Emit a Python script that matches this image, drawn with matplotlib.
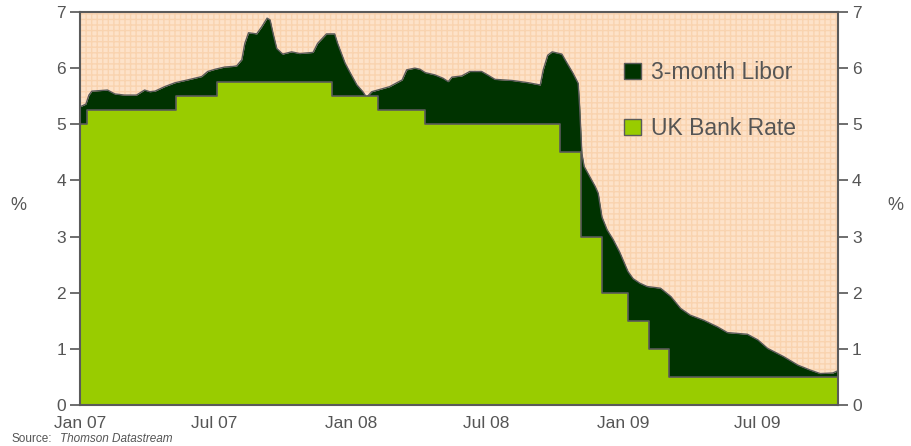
import matplotlib
matplotlib.use("Agg")
import matplotlib.pyplot as plt
import numpy as np
import pandas as pd
from matplotlib.patches import Rectangle

plt.rcParams['font.family'] = ['Liberation Sans', 'DejaVu Sans']

# ---- data ----
libor_dates = ["2007-01-01", "2007-01-09", "2007-01-13", "2007-01-17", "2007-01-28", "2007-02-07",
               "2007-02-17", "2007-03-02", "2007-03-18", "2007-03-29", "2007-04-05", "2007-04-12",
               "2007-04-25", "2007-05-09", "2007-05-26", "2007-06-14", "2007-06-22", "2007-07-02",
               "2007-07-15", "2007-07-26", "2007-07-31", "2007-08-07", "2007-08-11", "2007-08-16",
               "2007-08-27", "2007-09-03", "2007-09-10", "2007-09-14", "2007-09-18", "2007-09-23",
               "2007-10-01", "2007-10-13", "2007-10-24", "2007-11-11", "2007-11-17", "2007-11-29",
               "2007-12-10", "2007-12-14", "2007-12-24", "2007-12-30", "2008-01-09", "2008-01-17",
               "2008-01-22", "2008-01-29", "2008-02-06", "2008-02-22", "2008-02-29", "2008-03-10",
               "2008-03-16", "2008-03-27", "2008-04-03", "2008-04-10", "2008-04-23", "2008-05-04",
               "2008-05-11", "2008-05-16", "2008-05-29", "2008-06-09", "2008-06-25", "2008-07-03",
               "2008-07-13", "2008-08-05", "2008-08-27", "2008-09-12", "2008-09-16", "2008-09-22",
               "2008-09-28", "2008-10-11", "2008-10-18", "2008-10-26", "2008-11-02", "2008-11-04",
               "2008-11-07", "2008-11-10", "2008-11-15", "2008-11-25", "2008-11-29", "2008-12-04",
               "2008-12-11", "2008-12-19", "2008-12-28", "2009-01-08", "2009-01-15", "2009-01-24",
               "2009-02-03", "2009-02-21", "2009-03-07", "2009-03-20", "2009-04-02", "2009-04-20",
               "2009-05-09", "2009-05-22", "2009-06-18", "2009-07-02", "2009-07-15", "2009-08-06",
               "2009-08-25", "2009-09-11", "2009-09-24", "2009-10-11", "2009-10-18"]
libor_values = [5.31, 5.36, 5.52, 5.59, 5.60, 5.61,
                5.54, 5.52, 5.52, 5.61, 5.58, 5.59,
                5.67, 5.74, 5.79, 5.85, 5.94, 5.98,
                6.02, 6.03, 6.04, 6.15, 6.44, 6.63,
                6.61, 6.74, 6.89, 6.86, 6.62, 6.35,
                6.25, 6.29, 6.26, 6.28, 6.44, 6.61,
                6.61, 6.44, 6.09, 5.94, 5.70, 5.58,
                5.48, 5.58, 5.61, 5.67, 5.72, 5.79,
                5.97, 6.00, 5.98, 5.92, 5.88, 5.82,
                5.76, 5.84, 5.86, 5.94, 5.94, 5.88,
                5.80, 5.78, 5.74, 5.70, 5.97, 6.23,
                6.29, 6.25, 6.09, 5.91, 5.73, 5.31,
                4.48, 4.25, 4.13, 3.89, 3.77, 3.35,
                3.12, 2.95, 2.72, 2.38, 2.25, 2.17,
                2.11, 2.08, 1.93, 1.72, 1.60, 1.51,
                1.39, 1.29, 1.26, 1.16, 1.01, 0.86,
                0.71, 0.62, 0.56, 0.57, 0.61]

bank_dates = ["2007-01-01", "2007-01-11", "2007-05-10", "2007-07-05", "2007-12-06", "2008-02-07",
              "2008-04-10", "2008-10-08", "2008-11-06", "2008-12-04", "2009-01-08", "2009-02-05",
              "2009-03-05", "2009-10-18"]
bank_values = [5.00, 5.25, 5.50, 5.75, 5.50, 5.25,
               5.00, 4.50, 3.00, 2.00, 1.50, 1.00,
               0.50, 0.50]

xtick_dates = ["2007-01-01", "2007-07-01", "2008-01-01", "2008-07-01", "2009-01-01", "2009-07-01"]
xtick_labels = ["Jan 07", "Jul 07", "Jan 08", "Jul 08", "Jan 09", "Jul 09"]
yticks = [0, 1, 2, 3, 4, 5, 6, 7]

series_names = ["3-month Libor", "UK Bank Rate"]

# ---- plot ----
libor_x = pd.to_datetime(libor_dates)
bank_x = pd.to_datetime(bank_dates)

fig = plt.figure(figsize=(9.11, 4.46), dpi=100)
ax = fig.add_axes([80/911, 1-405/446, (838-80)/911, (405-12)/446])

txt = '#555555'
edge = '#5a5a5a'
dark = '#003300'
light = '#99CC00'
bg = '#FDE2C9'

ax.set_facecolor(bg)
ax.add_patch(Rectangle((0, 0), 1, 1, transform=ax.transAxes, facecolor='none',
                       edgecolor='#F9D3AF', hatch='+++', linewidth=0, zorder=0.5))

ax.fill_between(libor_x, 0, libor_values, color=dark, zorder=2, linewidth=0)
ax.plot(libor_x, libor_values, color=edge, lw=1.0, zorder=2.5)
ax.fill_between(bank_x, 0, bank_values, step='post', color=light, zorder=3, linewidth=0)
ax.step(bank_x, bank_values, where='post', color=edge, lw=1.2, zorder=3.5)

ax.set_xlim(pd.Timestamp("2007-01-01"), pd.Timestamp("2009-10-18"))
ax.set_ylim(0, 7)

ax.set_xticks(pd.to_datetime(xtick_dates))
ax.set_xticklabels(xtick_labels)
ax.tick_params(axis='x', length=0, pad=8, labelsize=12.5, colors=txt)

ax.set_yticks(yticks)
ax.tick_params(axis='y', which='both', direction='out', length=7, width=1.2,
               labelsize=12.5, colors=txt, left=True, right=True,
               labelleft=True, labelright=True, pad=3)

for s in ['left', 'right', 'top', 'bottom']:
    ax.spines[s].set_color(edge)
    ax.spines[s].set_linewidth(1.5)
    ax.spines[s].set_zorder(5)

fig.text(18/911, 1-205/446, '%', fontsize=13, color=txt, ha='center', va='center')
fig.text(895/911, 1-205/446, '%', fontsize=13, color=txt, ha='center', va='center')

h1 = Rectangle((0, 0), 1, 1, facecolor=dark, edgecolor=edge, lw=1)
h2 = Rectangle((0, 0), 1, 1, facecolor=light, edgecolor=edge, lw=1)
leg = ax.legend([h1, h2], series_names, loc='upper left',
                bbox_to_anchor=(624/911, 1-61/446), bbox_transform=fig.transFigure,
                frameon=False, fontsize=16.5, handlelength=0.72, handleheight=0.7,
                handletextpad=0.45, labelspacing=1.45, borderpad=0, borderaxespad=0)
for t in leg.get_texts():
    t.set_color(txt)

fig.text(12/911, 0.5/446, 'Source:', fontsize=8.5, color=txt, ha='left', va='bottom')
fig.text(60/911, 0.5/446, 'Thomson Datastream', fontsize=8.5, color=txt,
         ha='left', va='bottom', style='italic')

fig.savefig('out.png', dpi=100)
